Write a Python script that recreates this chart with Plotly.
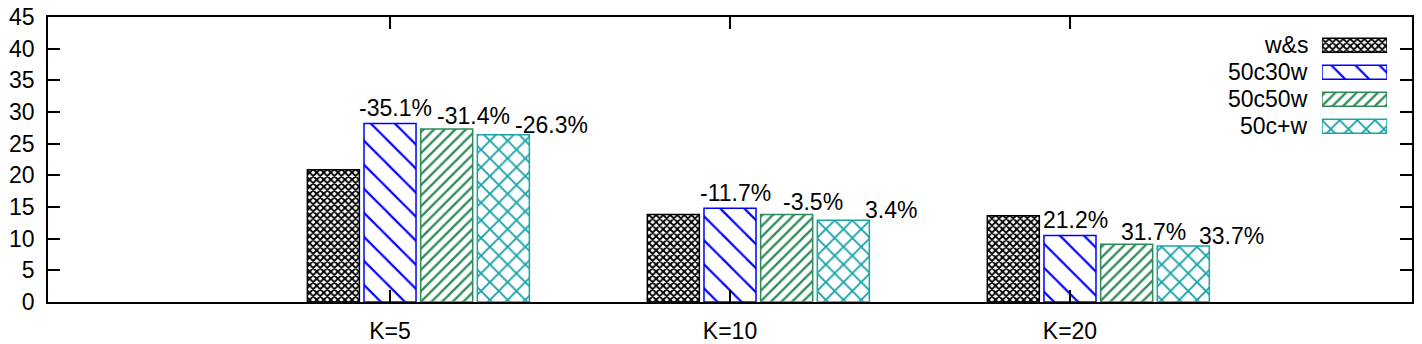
import plotly.graph_objects as go

# data
categories = ["K=5", "K=10", "K=20"]
series_names = ["w&s", "50c30w", "50c50w", "50c+w"]
ws_vals = [20.9, 13.8, 13.6]
c30w_vals = [28.2, 14.8, 10.5]
c50w_vals = [27.3, 13.8, 9.1]
cpw_vals = [26.4, 12.9, 8.85]
c30w_labels = ["-35.1%", "-11.7%", "21.2%"]
c50w_labels = ["-31.4%", "-3.5%", "31.7%"]
cpw_labels = ["-26.3%", "3.4%", "33.7%"]
y_ticks = [0, 5, 10, 15, 20, 25, 30, 35, 40, 45]

FONT = "Liberation Sans, Arial, sans-serif"
FS = 23
pitch = 1 / 6
bar_w = 0.153

styles = [
    dict(line="#000000", shape="x", fg="#000000", bg="#ffffff", size=5, sol=0.6),
    dict(line="#0000ff", shape="\\", fg="#0000ff", bg="#ffffff", size=17, sol=0.13),
    dict(line="#2e8b57", shape="/", fg="#2e8b57", bg="#ffffff", size=7.5, sol=0.3),
    dict(line="#1aa3a8", shape="x", fg="#1aa3a8", bg="#ffffff", size=12.5, sol=0.28),
]
values = [ws_vals, c30w_vals, c50w_vals, cpw_vals]
labels = [None, c30w_labels, c50w_labels, cpw_labels]
# label placement relative to each group tick (x) and bar top (y)
label_dx = [None, 0.015, 0.245, 0.475]
label_dy = [None, 2.4, 2.0, 1.6]


def bar_marker(st):
    return dict(
        color=st["bg"],
        line=dict(color=st["line"], width=1.5),
        pattern=dict(shape=st["shape"], fgcolor=st["fg"], bgcolor=st["bg"],
                     fgopacity=1, size=st["size"], solidity=st["sol"],
                     fillmode="replace"),
    )


fig = go.Figure()
xs = list(range(len(categories)))

for i, (name, vals, st) in enumerate(zip(series_names, values, styles)):
    fig.add_trace(go.Bar(
        x=xs, y=vals, name=name,
        width=bar_w, offset=(i - 1) * pitch - bar_w / 2,
        marker=bar_marker(st), showlegend=False,
    ))

annotations = []
for i in range(1, 4):
    for j, (v, t) in enumerate(zip(values[i], labels[i])):
        annotations.append(dict(
            x=j + label_dx[i], y=v + label_dy[i], xref="x", yref="y",
            text=t, showarrow=False, xanchor="center", yanchor="middle",
            font=dict(family=FONT, size=FS, color="black"),
        ))

# gnuplot-style key: text on the left, pattern sample on the right
for i, (name, st) in enumerate(zip(series_names, styles)):
    fig.add_trace(go.Bar(
        x=[1], y=[i], base=0, orientation="h", width=0.52,
        xaxis="x2", yaxis="y2", showlegend=False, hoverinfo="skip",
        marker=bar_marker(st),
    ))
    annotations.append(dict(
        x=0.925, y=i, xref="paper", yref="y2", text=name, showarrow=False,
        xanchor="right", yanchor="middle",
        font=dict(family=FONT, size=FS, color="black"),
    ))

fig.update_layout(
    width=1422, height=344,
    margin=dict(l=48, r=10, t=17, b=42),
    plot_bgcolor="white", paper_bgcolor="white",
    barmode="overlay",
    font=dict(family=FONT, size=FS, color="black"),
    annotations=annotations,
    xaxis=dict(
        range=[-1.006, 3.006], tickvals=xs, ticktext=categories,
        ticks="inside", ticklen=12, tickwidth=1.5, tickcolor="black",
        showline=True, linecolor="black", linewidth=1.5, mirror="ticks",
        showgrid=False, zeroline=False, ticklabelstandoff=8, automargin=False,
    ),
    yaxis=dict(
        range=[0, 45], tickvals=y_ticks,
        ticks="inside", ticklen=12, tickwidth=1.5, tickcolor="black",
        showline=True, linecolor="black", linewidth=1.5, mirror="ticks",
        showgrid=False, zeroline=False, ticklabelstandoff=7, automargin=False,
    ),
    xaxis2=dict(domain=[0.934, 0.9817], range=[0, 1], visible=False, anchor="y2"),
    yaxis2=dict(domain=[0.569, 0.948], range=[3.5, -0.5], visible=False, anchor="x2"),
)

fig.write_html("out.html", config={"displayModeBar": False},
               post_script="document.body.style.margin='0';")
